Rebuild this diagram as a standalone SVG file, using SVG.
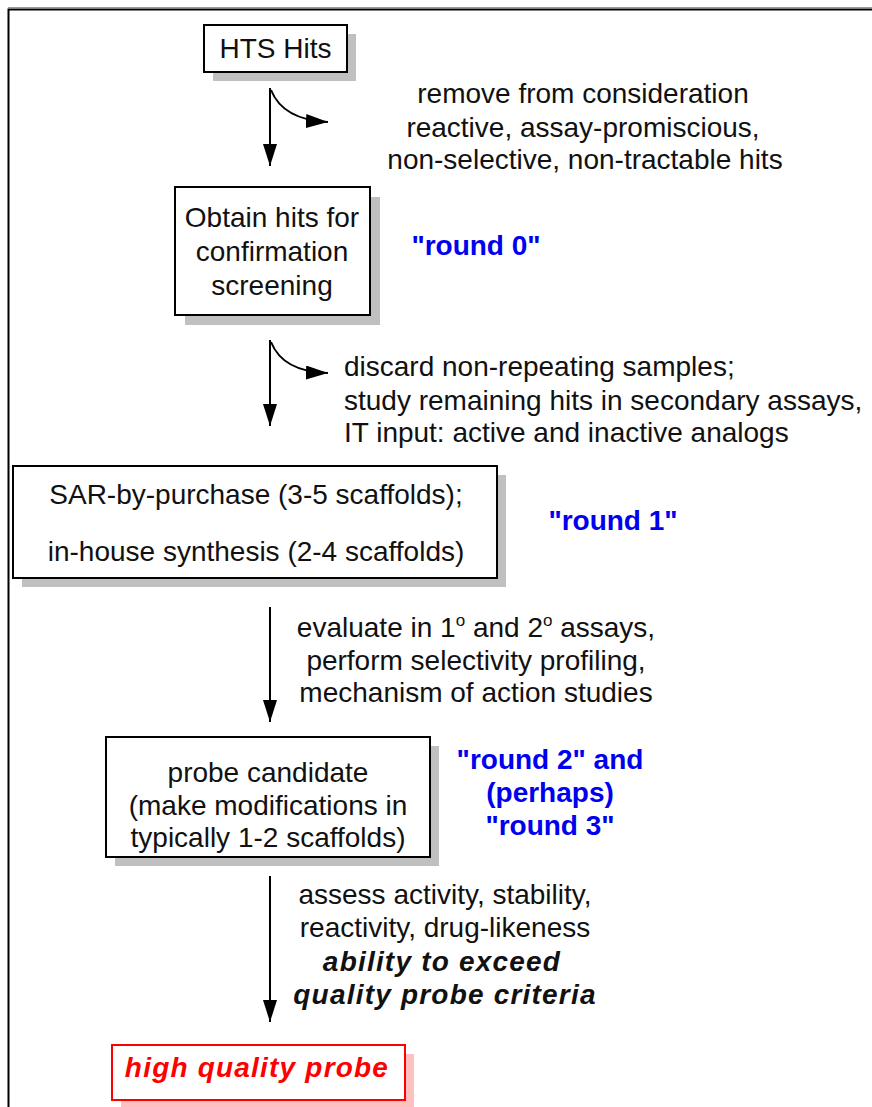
<svg xmlns="http://www.w3.org/2000/svg" width="872" height="1107" viewBox="0 0 872 1107">
<style>
.t{font-family:"Liberation Sans",Arial,sans-serif;font-size:28px;fill:#111}
.c{text-anchor:middle}
.b{font-family:"Liberation Sans",Arial,sans-serif;font-size:28px;font-weight:bold;fill:#0000ee;text-anchor:middle}
.bi{font-family:"Liberation Sans",Arial,sans-serif;font-size:28px;font-weight:bold;font-style:italic;letter-spacing:1.2px;text-anchor:middle}
.box{fill:#fff;stroke:#000;stroke-width:2}
.sh{fill:#c0c0c0}
.ln{fill:none;stroke:#000;stroke-width:2}
</style>
<defs>
<marker id="ah" viewBox="0 0 22 14" refX="22" refY="7" markerWidth="22" markerHeight="14" markerUnits="userSpaceOnUse" orient="auto">
<path d="M0,0 L22,7 L0,14 Z" fill="#000"/>
</marker>
</defs>
<rect width="872" height="1107" fill="#fff"/>
<g id="frame">
<line x1="8" y1="7.5" x2="872" y2="7.5" stroke="#999" stroke-width="1"/>
<path d="M8.5,1107 V9.5 H872" fill="none" stroke="#000" stroke-width="2"/>
</g>
<g id="connectors">
<line class="ln" x1="270" y1="88" x2="270" y2="166" marker-end="url(#ah)"/>
<path class="ln" d="M271,90 Q283,120 328,122" marker-end="url(#ah)"/>
<line class="ln" x1="270" y1="340" x2="270" y2="426" marker-end="url(#ah)"/>
<path class="ln" d="M271,342 Q283,372 328,373" marker-end="url(#ah)"/>
<line class="ln" x1="270" y1="607" x2="270" y2="722" marker-end="url(#ah)"/>
<line class="ln" x1="270" y1="876" x2="270" y2="1022" marker-end="url(#ah)"/>
</g>
<g id="hts">
<rect class="sh" x="213" y="34" width="143" height="47"/>
<rect class="box" x="204" y="25" width="143" height="47"/>
<text class="t c" x="275.5" y="58">HTS Hits</text>
</g>
<g id="label1">
<text class="t c" x="583" y="103">remove from consideration</text>
<text class="t c" x="583" y="137">reactive, assay-promiscious,</text>
<text class="t c" x="585" y="169">non-selective, non-tractable hits</text>
</g>
<g id="obtain">
<rect class="sh" x="185" y="197" width="195" height="128"/>
<rect class="box" x="175" y="187" width="195" height="128"/>
<text class="t c" x="272" y="227">Obtain hits for</text>
<text class="t c" x="272" y="261">confirmation</text>
<text class="t c" x="272" y="295">screening</text>
</g>
<text id="round0" class="b" x="476" y="255">"round 0"</text>
<g id="label2">
<text class="t" x="344" y="376">discard non-repeating samples;</text>
<text class="t" x="344" y="410">study remaining hits in secondary assays,</text>
<text class="t" x="344" y="442">IT input: active and inactive analogs</text>
</g>
<g id="sar">
<rect class="sh" x="22" y="475" width="484" height="112"/>
<rect class="box" x="13" y="466" width="484" height="112"/>
<text class="t c" x="256" y="504">SAR-by-purchase (3-5 scaffolds);</text>
<text class="t c" x="256" y="561">in-house synthesis (2-4 scaffolds)</text>
</g>
<text id="round1" class="b" x="613" y="530">"round 1"</text>
<g id="label3">
<text class="t c" x="476" y="637">evaluate in 1<tspan font-size="17" dy="-11">o</tspan><tspan dy="11"> and 2</tspan><tspan font-size="17" dy="-11">o</tspan><tspan dy="11"> assays,</tspan></text>
<text class="t c" x="476" y="670">perform selectivity profiling,</text>
<text class="t c" x="476" y="702">mechanism of action studies</text>
</g>
<g id="probe">
<rect class="sh" x="115" y="746" width="324" height="120"/>
<rect class="box" x="106" y="737" width="324" height="120"/>
<text class="t c" x="268" y="782">probe candidate</text>
<text class="t c" x="268" y="815">(make modifications in</text>
<text class="t c" x="268" y="847">typically 1-2 scaffolds)</text>
</g>
<g id="round23">
<text class="b" x="550" y="769">"round 2" and</text>
<text class="b" x="550" y="802">(perhaps)</text>
<text class="b" x="550" y="835">"round 3"</text>
</g>
<g id="label4">
<text class="t c" x="445" y="904">assess activity, stability,</text>
<text class="t c" x="445" y="937">reactivity, drug-likeness</text>
<text class="bi" x="442" y="971" fill="#111">ability to exceed</text>
<text class="bi" x="445" y="1004" fill="#111">quality probe criteria</text>
</g>
<g id="final">
<rect x="121" y="1054" width="293" height="55" fill="#ffc0c0"/>
<rect x="112" y="1045" width="293" height="55" fill="#fff" stroke="#ff0000" stroke-width="2"/>
<text class="bi" x="257" y="1077" fill="#ff0000">high quality probe</text>
</g>
</svg>
